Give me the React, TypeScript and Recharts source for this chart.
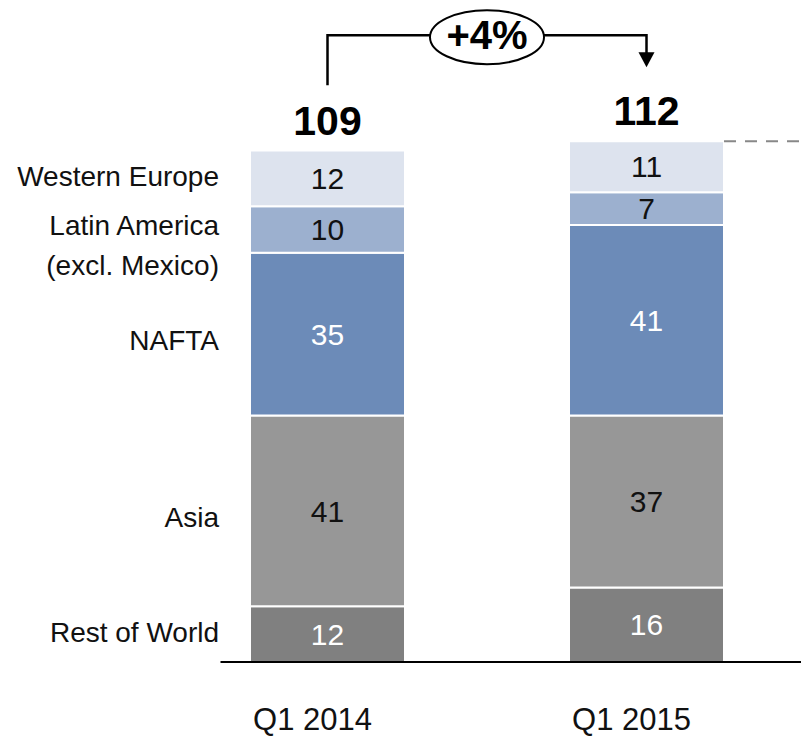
import { BarChart, Bar, XAxis, YAxis, LabelList, ReferenceLine } from "recharts";

const FONT = "'Liberation Sans', Arial, sans-serif";

const categories = ["Q1 2014", "Q1 2015"];
const restOfWorld = [12, 16];
const asia = [41, 37];
const nafta = [35, 41];
const latinAmerica = [10, 7];
const westernEurope = [12, 11];
const totals = [109, 112];
const growthLabel = "+4%";

const BAR_SIZE = 155;

const data = categories.map((c, i) => ({
  name: c,
  rest: restOfWorld[i],
  asia: asia[i],
  nafta: nafta[i],
  latin: latinAmerica[i],
  we: westernEurope[i],
}));

const series = [
  { key: "rest", fill: "#808080", text: "#fff", label: ["Rest of World"], nudge: -2 },
  { key: "asia", fill: "#979797", text: "#111", label: ["Asia"], nudge: 6 },
  { key: "nafta", fill: "#6c8bb8", text: "#fff", label: ["NAFTA"], nudge: 6 },
  { key: "latin", fill: "#9cb0cf", text: "#111", label: ["Latin America", "(excl. Mexico)"], nudge: -5 },
  { key: "we", fill: "#dde3ee", text: "#111", label: ["Western Europe"], nudge: -2 },
];

// series name to the left of the first bar
const sideLabel = (lines: string[], nudge: number) => (props: any) => {
  const { x, y, height, index } = props;
  if (index !== 0) return null;
  const cy = Number(y) + Math.abs(Number(height)) / 2 + nudge;
  return (
    <text x={Number(x) - 31} y={cy} textAnchor="end" dominantBaseline="central" fontSize={28} fontFamily={FONT} fill="#111">
      {lines.map((l, i) => (
        <tspan key={i} x={Number(x) - 31} dy={i === 0 ? 0 : 40}>{l}</tspan>
      ))}
    </text>
  );
};

const totalLabel = (props: any) => {
  const { x, y, width, index } = props;
  return (
    <text x={Number(x) + Number(width) / 2} y={Number(y) - 16} textAnchor="middle" fontSize={41} fontWeight="bold" fontFamily={FONT} fill="#000">
      {totals[index]}
    </text>
  );
};

const Bracket = (props: any) => {
  const { x1, y1, x2 } = props;
  const mid = (x1 + x2) / 2;
  const rx = 57;
  return (
    <g>
      <path d={`M${x1},${y1 + 50}V${y1}H${mid - rx}M${mid + rx},${y1}H${x2}V${y1 + 18}`} fill="none" stroke="#000" strokeWidth={2.5} />
      <polygon points={`${x2 - 8},${y1 + 17} ${x2 + 8},${y1 + 17} ${x2},${y1 + 32}`} fill="#000" />
      <ellipse cx={mid} cy={y1 + 2} rx={rx} ry={27} fill="#fff" stroke="#000" strokeWidth={2} />
      <text x={mid} y={y1} textAnchor="middle" dominantBaseline="central" fontSize={40} fontWeight="bold" fontFamily={FONT} fill="#000">
        {growthLabel}
      </text>
    </g>
  );
};

const DashedTail = (props: any) => {
  const { x1, y1 } = props;
  return <line x1={x1 + BAR_SIZE / 2} y1={y1} x2={x1 + 260} y2={y1} stroke="#888" strokeWidth={2} strokeDasharray="12 9" />;
};

const BaseLine = (props: any) => {
  const { x1, y1, x2 } = props;
  return <line x1={x1 - 107} y1={y1} x2={x2 + 200} y2={y1} stroke="#000" strokeWidth={2} />;
};

export default function App() {
  return (
    <div style={{ position: "absolute", left: 0, top: 0, background: "#fff" }}>
      <BarChart width={801} height={737} data={data} margin={{ top: 11, right: -5, bottom: 0, left: 168 }} barSize={BAR_SIZE}>
        <XAxis dataKey="name" axisLine={false} tickLine={false} tickSize={0} tickMargin={46} height={75} tick={{ fontSize: 31, fill: "#111", fontFamily: FONT, dx: -15 }} />
        <YAxis hide domain={[0, 140]} />
        {series.map((s) => (
          <Bar key={s.key} dataKey={s.key} stackId="a" fill={s.fill} stroke="#fff" strokeWidth={2} isAnimationActive={false}>
            <LabelList dataKey={s.key} position="center" fill={s.text} fontSize={30} fontFamily={FONT} />
            <LabelList dataKey={s.key} content={sideLabel(s.label, s.nudge)} />
            {s.key === "we" && <LabelList dataKey={s.key} content={totalLabel} />}
          </Bar>
        ))}
        <ReferenceLine segment={[{ x: categories[0], y: 0 }, { x: categories[1], y: 0 }]} ifOverflow="visible" shape={BaseLine} />
        <ReferenceLine segment={[{ x: categories[1], y: totals[1] }, { x: categories[1], y: totals[1] }]} ifOverflow="visible" shape={DashedTail} />
        <ReferenceLine segment={[{ x: categories[0], y: 134.8 }, { x: categories[1], y: 134.8 }]} ifOverflow="visible" shape={Bracket} />
      </BarChart>
    </div>
  );
}
